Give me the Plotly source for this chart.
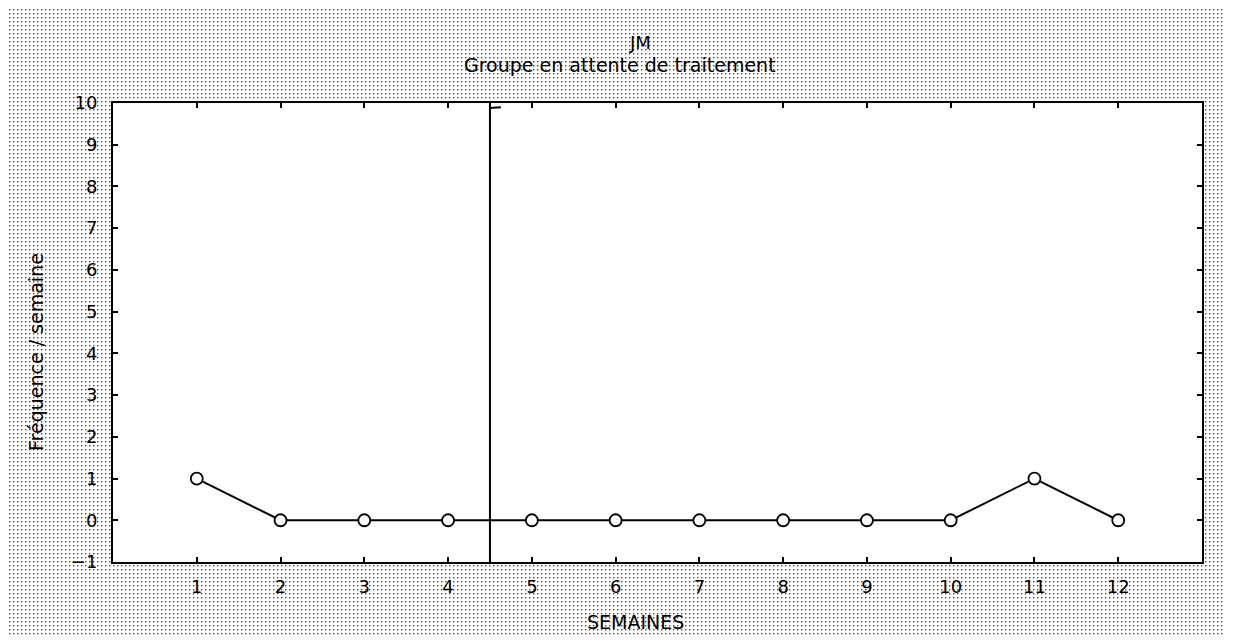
import base64
import plotly.graph_objects as go

weeks = [1, 2, 3, 4, 5, 6, 7, 8, 9, 10, 11, 12]
frequency = [1, 0, 0, 0, 0, 0, 0, 0, 0, 0, 1, 0]
phase_change = 4.5
title = "JM"
subtitle = "Groupe en attente de traitement"
x_title = "SEMAINES"
y_title = "Fréquence / semaine"

OFF = 8  # page body margin
W, H = 1233 - 2 * OFF, 644 - 2 * OFF
# desired window coordinates of plot area
PL, PR, PT, PB = 113, 1202, 103, 562
ml, mt = PL - OFF, PT - OFF
mr, mb = W - (PR - OFF), H - (PB - OFF)
pw, ph = W - ml - mr, H - mt - mb


def px(xw):
    return (xw - OFF - ml) / pw


def py(yw):
    return (H - mb - (yw - OFF)) / ph


svg = f'''<svg xmlns="http://www.w3.org/2000/svg" width="{W}" height="{H}" viewBox="0 0 {W} {H}" preserveAspectRatio="none">
<defs><pattern id="p" width="4" height="4" patternUnits="userSpaceOnUse">
<rect width="4" height="4" fill="#ffffff"/><rect x="1" y="1" width="1.4" height="1.4" fill="#4a4a4a"/></pattern></defs>
<rect width="{W}" height="{H}" fill="url(#p)"/></svg>'''
src = "data:image/svg+xml;base64," + base64.b64encode(svg.encode()).decode()

font = "DejaVu Sans, Arial, sans-serif"

fig = go.Figure()
fig.add_trace(go.Scatter(
    x=weeks, y=frequency, mode="lines+markers",
    line=dict(color="black", width=2),
    marker=dict(symbol="circle", size=12, color="white",
                line=dict(color="black", width=1.8)),
    showlegend=False, cliponaxis=False))

fig.update_layout(
    width=W, height=H,
    margin=dict(l=ml, r=mr, t=mt, b=mb),
    paper_bgcolor="#d9d9d9", plot_bgcolor="white",
    font=dict(family=font, size=18, color="black"),
    images=[dict(source=src, xref="paper", yref="paper",
                 x=-ml / pw, y=1 + mt / ph, sizex=W / pw, sizey=H / ph,
                 xanchor="left", yanchor="top", sizing="stretch", layer="below")],
    shapes=[
        dict(type="rect", xref="paper", yref="paper", x0=0, x1=1, y0=0, y1=1,
             fillcolor="white", line=dict(width=0), layer="below"),
        dict(type="line", xref="x", yref="y", x0=phase_change, x1=phase_change,
             y0=-1, y1=10, line=dict(color="black", width=2)),
        dict(type="line", xref="x", yref="y", x0=phase_change, x1=phase_change + 0.13,
             y0=9.88, y1=9.9, line=dict(color="black", width=2)),
    ],
    annotations=[
        dict(text=title, xref="paper", yref="paper", x=px(640), y=py(42),
             showarrow=False, font=dict(size=18), yanchor="middle"),
        dict(text=subtitle, xref="paper", yref="paper", x=px(620), y=py(65),
             showarrow=False, font=dict(size=19), yanchor="middle"),
        dict(text=x_title, xref="paper", yref="paper", x=px(635), y=py(622),
             showarrow=False, font=dict(size=19), yanchor="middle"),
        dict(text=y_title, xref="paper", yref="paper", x=px(36), y=py(352),
             showarrow=False, font=dict(size=19), textangle=-90,
             xanchor="center", yanchor="middle"),
    ],
)
fig.update_xaxes(range=[0, 13], tickmode="array", tickvals=weeks,
                 ticks="inside", ticklen=5, tickwidth=1.5, tickcolor="black",
                 ticklabelstandoff=7,
                 showline=True, linecolor="black", linewidth=2, mirror="ticks",
                 showgrid=False, zeroline=False, fixedrange=True)
fig.update_yaxes(range=[-1, 10], tickmode="array", tickvals=list(range(-1, 11)),
                 ticks="inside", ticklen=5, tickwidth=1.5, tickcolor="black",
                 ticklabelstandoff=10,
                 showline=True, linecolor="black", linewidth=2, mirror="ticks",
                 showgrid=False, zeroline=False, fixedrange=True)

fig.write_html("out.html")
